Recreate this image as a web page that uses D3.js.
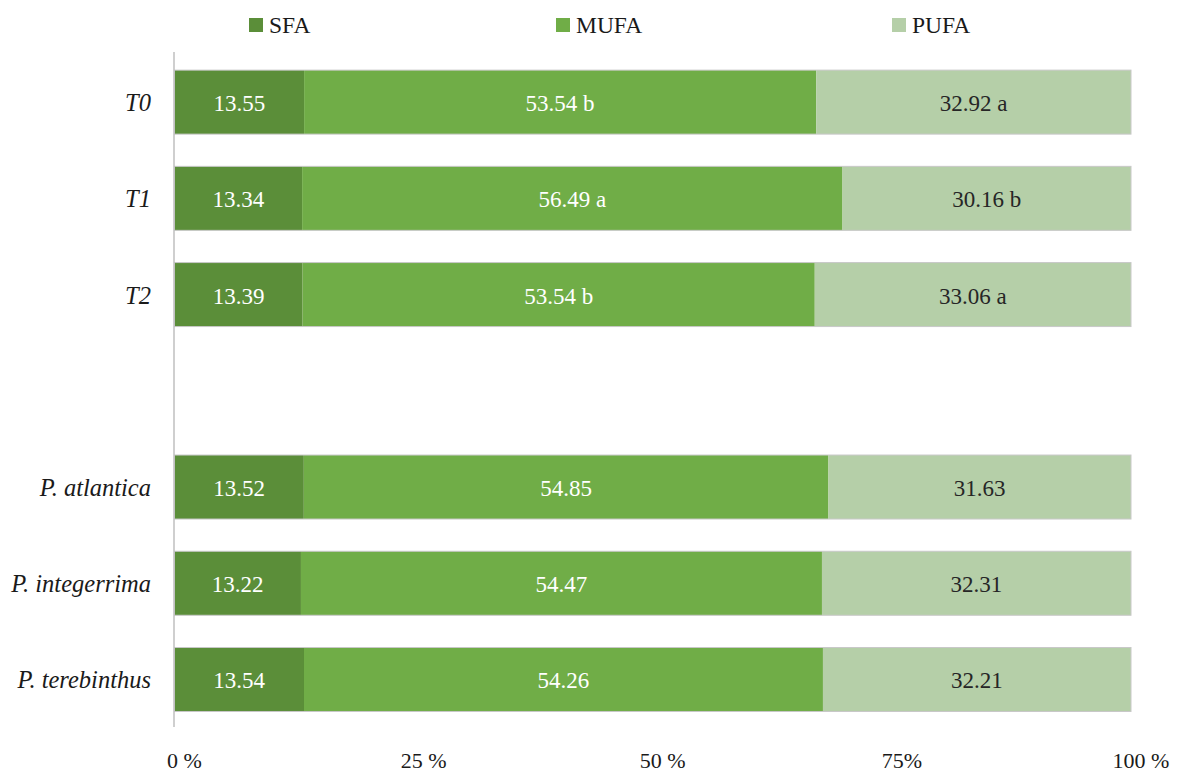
<!DOCTYPE html>
<html>
<head>
<meta charset="utf-8">
<script src="https://cdn.jsdelivr.net/npm/d3@7"></script>
<style>
  html, body { margin: 0; padding: 0; background: #fff; }
  svg { display: block; }
  text { font-family: "Liberation Serif", "DejaVu Serif", serif; }
</style>
</head>
<body>
<svg id="chart" width="1177" height="772"></svg>
<script>
// ---- data ----
const categories = ["T0", "T1", "T2", "", "P. atlantica", "P. integerrima", "P. terebinthus"];
const seriesNames = ["SFA", "MUFA", "PUFA"];
const sfaValues  = [13.55, 13.34, 13.39, null, 13.52, 13.22, 13.54];
const mufaValues = [53.54, 56.49, 53.54, null, 54.85, 54.47, 54.26];
const pufaValues = [32.92, 30.16, 33.06, null, 31.63, 32.31, 32.21];
const mufaLetters = ["b", "a", "b", "", "", "", ""];
const pufaLetters = ["a", "b", "a", "", "", "", ""];
const tickValues = [0, 0.25, 0.5, 0.75, 1];
const tickLabels = ["0 %", "25 %", "50 %", "75%", "100 %"];

// ---- styles ----
const colors = ["#5b8e39", "#70ad47", "#b5cfa8"];
const labelColors = ["#ffffff", "#ffffff", "#262626"];

const svg = d3.select("#chart");
const x = d3.scaleLinear().domain([0, 1]).range([174.5, 1131]);
const y = d3.scaleBand().domain(categories.map((c, i) => i)).range([54, 727.6]).paddingInner(0.335).paddingOuter(0.1675);

const rows = categories.map((c, i) => ({
  cat: c, i,
  vals: [sfaValues[i], mufaValues[i], pufaValues[i]],
  letters: ["", mufaLetters[i], pufaLetters[i]]
})).filter(r => r.vals[0] !== null);

rows.forEach(r => {
  const total = d3.sum(r.vals);
  let acc = 0;
  r.segs = r.vals.map((v, k) => {
    const s = { k, x0: acc / total, x1: (acc + v) / total, v, letter: r.letters[k] };
    acc += v;
    return s;
  });
});

const g = svg.append("g");

// bars
const rowG = g.selectAll("g.row").data(rows).join("g").attr("class", "row");
rowG.selectAll("rect.seg").data(d => d.segs.map(s => Object.assign({ i: d.i }, s))).join("rect")
  .attr("class", "seg")
  .attr("x", d => x(d.x0))
  .attr("width", d => x(d.x1) - x(d.x0))
  .attr("y", d => y(d.i))
  .attr("height", y.bandwidth())
  .attr("fill", d => colors[d.k]);
// outline
rowG.append("rect")
  .attr("x", x(0))
  .attr("width", x(1) - x(0))
  .attr("y", d => y(d.i))
  .attr("height", y.bandwidth())
  .attr("fill", "none")
  .attr("stroke", "#c8c8c8")
  .attr("stroke-width", 1);

// segment labels
rowG.selectAll("text.lab").data(d => d.segs.map(s => Object.assign({ i: d.i }, s))).join("text")
  .attr("class", "lab")
  .attr("x", d => (x(d.x0) + x(d.x1)) / 2)
  .attr("y", d => y(d.i) + y.bandwidth() / 2 + 9)
  .attr("text-anchor", "middle")
  .attr("font-size", 23)
  .attr("fill", d => labelColors[d.k])
  .text(d => d.v.toFixed(2) + (d.letter ? " " + d.letter : ""));

// vertical axis line
svg.append("line")
  .attr("x1", x(0) - 0.5).attr("x2", x(0) - 0.5)
  .attr("y1", 52).attr("y2", 727)
  .attr("stroke", "#bfbfbf").attr("stroke-width", 1.5);

// category labels
svg.selectAll("text.cat").data(rows).join("text")
  .attr("class", "cat")
  .attr("x", 151)
  .attr("y", d => y(d.i) + y.bandwidth() / 2 + 9)
  .attr("text-anchor", "end")
  .attr("font-size", 24.5)
  .attr("font-style", "italic")
  .attr("fill", "#1a1a1a")
  .text(d => d.cat);

// x tick labels
svg.selectAll("text.tick").data(tickValues).join("text")
  .attr("class", "tick")
  .attr("x", d => x(d) + 10)
  .attr("y", 768)
  .attr("text-anchor", "middle")
  .attr("font-size", 22)
  .attr("fill", "#1a1a1a")
  .text((d, i) => tickLabels[i]);

// legend
const legendX = [249, 556, 892];
const lg = svg.selectAll("g.leg").data(seriesNames).join("g").attr("class", "leg")
  .attr("transform", (d, i) => `translate(${legendX[i]},0)`);
lg.append("rect").attr("x", 0).attr("y", 18).attr("width", 14).attr("height", 14)
  .attr("fill", (d, i) => colors[i]);
lg.append("text").attr("x", 20).attr("y", 33).attr("font-size", 23.5).attr("fill", "#1a1a1a")
  .text(d => d);
</script>
</body>
</html>
